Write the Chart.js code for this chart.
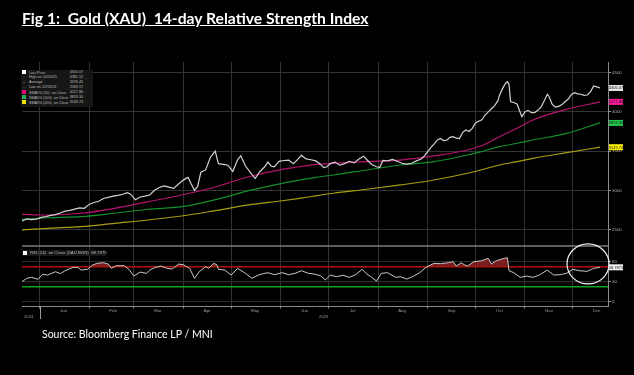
<!DOCTYPE html>
<html>
<head>
<meta charset="utf-8">
<script src="https://cdn.jsdelivr.net/npm/chart.js@4.4.1/dist/chart.umd.min.js"></script>
<style>
  html, body { margin: 0; padding: 0; background: #000; }
  #wrap { position: relative; width: 634px; height: 375px; overflow: hidden; background: #000; }
  #chart { position: absolute; left: 0; top: 0; }
  #title { position: absolute; left: 22px; top: 9px; font: bold 15.7px Lato, sans-serif; color: #fff; text-decoration: underline; white-space: pre; }
  #source { position: absolute; left: 42px; top: 328px; font: 10.5px Lato, sans-serif; color: #fff; }
  .box { position: absolute; background: #161616; color: #bdbdbd; font: 3.7px 'Liberation Sans', sans-serif; }
  .row { position: relative; height: 5px; line-height: 5px; white-space: pre; }
  .ic { display: inline-block; width: 4px; height: 4px; margin: 0 3px 0 1px; vertical-align: -0.5px; }
  .val { position: absolute; right: 10px; top: 0; }
</style>
</head>
<body>
<div id="wrap">
  <canvas id="chart" width="634" height="375"></canvas>
  <div id="title">Fig 1:  Gold (XAU)  14-day Relative Strength Index</div>
  <div id="legend" class="box" style="left:21px; top:70px; width:72px; height:37px;"></div>
  <div id="rsiLegend" class="box" style="left:22px; top:250px; width:84px; height:6px; font-size:4.3px;"></div>
  <div id="source">Source: Bloomberg Finance LP / MNI</div>
</div>
<script>
// eixo x em dias desde 1 jan 2025
const monthStarts = [0, 31, 59, 90, 120, 151, 181, 212, 243, 273, 304, 334];
const monthLabels = ['Jan', 'Feb', 'Mar', 'Apr', 'May', 'Jun', 'Jul', 'Aug', 'Sep', 'Oct', 'Nov', 'Dec'];
const priceTicks = [2500, 3000, 3500, 4000, 4500];
const rsiTicks = [0, 20, 40, 60, 80, 100];

const priceDays = [-11, -8, -5, -2, 1, 4, 7, 10, 13, 16,
  19, 22, 25, 28, 31, 34, 37, 40, 43, 46,
  49, 52, 55, 57, 60, 63, 66, 69, 72, 75,
  78, 81, 84, 87, 90, 93, 95, 97, 99, 101,
  104, 107, 110, 112, 115, 118, 121, 124, 126, 129,
  132, 135, 138, 141, 143, 145, 147, 150, 153, 156,
  159, 162, 164, 167, 170, 173, 176, 178, 180, 182,
  185, 188, 191, 194, 197, 200, 203, 205, 208, 211,
  213, 215, 218, 221, 224, 227, 230, 233, 236, 239,
  241, 243, 245, 247, 249, 251, 253, 255, 257, 259,
  261, 263, 265, 267, 269, 271, 273, 275, 277, 279,
  281, 283, 285, 287, 288, 290, 292, 293, 294, 295,
  297, 299, 300, 302, 304, 306, 308, 310, 312, 314,
  316, 318, 319, 321, 323, 325, 327, 329, 331, 333,
  335, 337, 339, 341, 343, 345, 347, 349, 351];
const price = [2610, 2635, 2625, 2632, 2655, 2665, 2680, 2690, 2710, 2735,
  2745, 2760, 2775, 2770, 2820, 2845, 2860, 2895, 2910, 2925,
  2935, 2950, 2970, 2950, 2880, 2915, 2925, 2940, 3000, 3035,
  3055, 3040, 3025, 3080, 3130, 3165, 3080, 3000, 3050, 3230,
  3260, 3420, 3500, 3340, 3330, 3320, 3240, 3390, 3440, 3310,
  3230, 3150, 3240, 3300, 3360, 3310, 3300, 3370, 3380, 3385,
  3340, 3400, 3445, 3400, 3390, 3375, 3330, 3290, 3300, 3340,
  3360, 3320, 3340, 3370, 3350, 3400, 3435, 3390, 3330, 3300,
  3290, 3380, 3375, 3395, 3370, 3345, 3335, 3345, 3375, 3400,
  3440, 3490, 3545, 3590, 3640, 3660, 3635, 3640, 3675, 3685,
  3665, 3660, 3740, 3770, 3750, 3790, 3860, 3880, 3900, 3960,
  4000, 4040, 4080, 4140, 4210, 4300, 4370, 4385, 4350, 4130,
  4120, 4100, 4050, 3940, 4000, 4020, 3990, 3990, 4020, 4060,
  4140, 4225, 4200, 4100, 4060, 4070, 4090, 4130, 4160, 4220,
  4245, 4230, 4225, 4210, 4215, 4255, 4330, 4320, 4305.07];

const smaDays = [-11, 5, 26, 47, 68, 89, 110, 131, 152, 163, 173, 184, 205, 226, 247, 268, 278, 288, 299, 309, 330, 351];
const sma50 = [2694, 2685, 2707, 2770, 2855, 2940, 3042, 3173, 3268, 3300, 3330, 3344, 3365, 3386, 3438, 3514, 3578, 3684, 3791, 3897, 4033, 4127.86];
const sma100 = [2630, 2650, 2663, 2707, 2758, 2791, 2880, 2995, 3089, 3131, 3166, 3195, 3259, 3323, 3365, 3450, 3501, 3556, 3600, 3642, 3727, 3859.30];
const sma200 = [2494, 2515, 2536, 2579, 2621, 2672, 2740, 2813, 2867, 2898, 2930, 2962, 3013, 3068, 3131, 3217, 3268, 3323, 3365, 3408, 3480, 3549.74];

const rsiDays = [-11, -8, -5, -1, 2, 5, 10, 13, 16, 21,
  24, 26, 30, 33, 36, 40, 43, 45, 48, 53,
  56, 59, 63, 67, 69, 72, 76, 80, 83, 87,
  90, 94, 97, 100, 104, 106, 109, 111, 112, 116,
  120, 124, 129, 133, 137, 140, 143, 147, 152, 156,
  160, 164, 168, 172, 176, 179, 182, 186, 190, 194,
  198, 202, 205, 208, 211, 214, 218, 223, 226, 230,
  234, 238, 242, 247, 251, 256, 259, 261, 264, 266,
  268, 272, 277, 281, 283, 286, 291, 293, 294, 297,
  301, 305, 309, 313, 318, 322, 326, 330, 334, 338,
  343, 347, 351];
const rsi = [40, 46.7, 48.7, 44.7, 55, 53, 60, 56, 62, 68.7,
  68.7, 63.3, 64.7, 73, 76.7, 78, 75.3, 66.7, 72, 72,
  64.7, 51.3, 59.3, 56.7, 63.3, 68, 71.3, 66.7, 65.3, 75.3,
  74, 66.7, 46.7, 60, 70, 66.7, 76.7, 74, 64.7, 63.3,
  53.3, 66.7, 56.7, 46.7, 53.3, 56, 58, 54, 58, 54,
  56.7, 62, 57, 55.3, 52, 43.3, 53.3, 50, 53, 48.7,
  54, 64.7, 55.3, 48.7, 41.3, 56.7, 58, 48.7, 50, 45.3,
  50.7, 58, 68.7, 76.7, 76, 78, 80, 71.3, 78, 74,
  71.3, 80, 82, 86.7, 75.3, 82, 86.7, 88, 62, 58,
  48.7, 51.3, 48.7, 53.3, 63.3, 53.3, 54, 56.7, 64.7, 62,
  60.7, 66.7, 68.7875];
const rsiOverbought = 70;
const rsiOversold = 30;

const legendLabels = ['Last Price', 'High on 10/20/25', 'Average', 'Low on 12/19/24', 'SMAVG (50)  on Close', 'SMAVG (100)  on Close', 'SMAVG (200)  on Close'];
const legendValues = ['4305.07', '4381.52', '3376.45', '2583.57', '4127.86', '3859.30', '3549.74'];
const legendIcons = ['#ffffff', '\u2191', '\u2192', '\u2193', '#e5007d', '#19b14a', '#f2e200'];

const pts = (days, vals) => days.map((d, i) => ({ x: d, y: vals[i] }));

// legenda (texto real em HTML)
const legend = document.getElementById('legend');
legendLabels.forEach((lab, i) => {
  const row = document.createElement('div');
  row.className = 'row';
  const ic = legendIcons[i];
  const icon = ic.startsWith('#')
    ? '<span class="ic" style="background:' + ic + '"></span>'
    : '<span style="display:inline-block;width:4px;margin:0 3px 0 1px;text-align:center">' + ic + '</span>';
  row.innerHTML = icon + lab + '<span class="val">' + legendValues[i] + '</span>';
  legend.appendChild(row);
});
document.getElementById('rsiLegend').innerHTML =
  '<div class="row" style="height:6px;line-height:6px"><span class="ic" style="background:#fff"></span>RSI (14)  on Close (XAU BGN)  ' + rsi[rsi.length - 1] + '</div>';

// etiquetas no eixo direito, separador, elipse e anos
const overlay = {
  id: 'overlay',
  afterDraw(chart) {
    const { ctx, chartArea, scales } = chart;
    const x = scales.x, yp = scales.y, yr = scales.rsi;
    ctx.save();
    ctx.strokeStyle = '#7c7c7c';
    ctx.lineWidth = 1.5;
    ctx.beginPath();
    ctx.moveTo(chartArea.left, yp.bottom);
    ctx.lineTo(chartArea.right, yp.bottom);
    ctx.stroke();

    const tags = [
      { v: price[price.length - 1], s: yp, bg: '#e6e6e6', d: 2 },
      { v: sma50[sma50.length - 1], s: yp, bg: '#ff1a9c', d: 2 },
      { v: sma100[sma100.length - 1], s: yp, bg: '#22c94f', d: 2 },
      { v: sma200[sma200.length - 1], s: yp, bg: '#fff200', d: 2 },
      { v: rsi[rsi.length - 1], s: yr, bg: '#f2f2f2', d: 4 }
    ];
    ctx.font = '4px "Liberation Sans"';
    ctx.textAlign = 'center';
    ctx.textBaseline = 'middle';
    tags.forEach(t => {
      const py = t.s.getPixelForValue(t.v);
      ctx.fillStyle = t.bg;
      ctx.fillRect(chartArea.right + 1, py - 3, 14, 6);
      ctx.fillStyle = '#111';
      ctx.fillText(t.v.toFixed(t.d), chartArea.right + 8, py + 0.3);
    });

    ctx.strokeStyle = '#f4f4f4';
    ctx.lineWidth = 1.2;
    ctx.beginPath();
    ctx.ellipse(x.getPixelForValue(343.5), yr.getPixelForValue(75.5), 21, 20, 0, 0, Math.PI * 2);
    ctx.stroke();

    ctx.fillStyle = '#9a9a9a';
    ctx.font = '4.2px "Liberation Sans"';
    ctx.textAlign = 'left';
    ctx.fillText('2024', chartArea.left + 2, 317);
    ctx.textAlign = 'center';
    ctx.fillText('2025', x.getPixelForValue(178), 317);
    ctx.strokeStyle = '#9a9a9a';
    ctx.lineWidth = 1;
    const jx = Math.round(x.getPixelForValue(0)) + 0.5;
    ctx.beginPath();
    ctx.moveTo(jx, chartArea.bottom);
    ctx.lineTo(jx, 319);
    ctx.stroke();
    ctx.restore();
  }
};

const axisFont = { family: 'Liberation Sans', size: 4.4 };
const ctx = document.getElementById('chart').getContext('2d');
const chart = new Chart(ctx, {
  type: 'line',
  data: {
    datasets: [
      { data: pts(priceDays, price), yAxisID: 'y', borderColor: '#d2d2d2', borderWidth: 1.2, pointRadius: 0 },
      { data: pts(smaDays, sma50), yAxisID: 'y', borderColor: '#b5146f', borderWidth: 1.2, cubicInterpolationMode: 'monotone', pointRadius: 0 },
      { data: pts(smaDays, sma100), yAxisID: 'y', borderColor: '#138f2c', borderWidth: 1.2, cubicInterpolationMode: 'monotone', pointRadius: 0 },
      { data: pts(smaDays, sma200), yAxisID: 'y', borderColor: '#aa9d14', borderWidth: 1.2, cubicInterpolationMode: 'monotone', pointRadius: 0 },
      {
        data: pts(rsiDays, rsi), yAxisID: 'rsi', borderColor: '#c8c8c8', borderWidth: 1, pointRadius: 0,
        fill: { target: { value: rsiOverbought }, above: 'rgba(150, 35, 35, 0.8)', below: 'rgba(0,0,0,0)' }
      },
      { data: pts([-11, 356], [rsiOverbought, rsiOverbought]), yAxisID: 'rsi', borderColor: '#b00f0f', borderWidth: 1.6, pointRadius: 0 },
      { data: pts([-11, 356], [rsiOversold, rsiOversold]), yAxisID: 'rsi', borderColor: '#14a314', borderWidth: 1.6, pointRadius: 0 }
    ]
  },
  options: {
    responsive: false,
    animation: false,
    devicePixelRatio: 1,
    layout: { padding: { left: 22, top: 62, right: 0, bottom: 0 } },
    plugins: { legend: { display: false }, tooltip: { enabled: false } },
    scales: {
      x: {
        type: 'linear', min: -11, max: 356,
        afterBuildTicks: s => { s.ticks = monthStarts.map(v => ({ value: v })); },
        afterFit: s => { s.height = 68.5; },
        grid: { color: '#333', tickColor: '#888', tickLength: 2 },
        border: { color: '#8a8a8a', width: 1 },
        ticks: {
          autoSkip: false, maxRotation: 0, padding: 0, labelOffset: 24,
          color: '#9a9a9a', font: axisFont,
          callback: (v, i) => monthLabels[i]
        }
      },
      y: {
        type: 'linear', position: 'right', stack: 'panes', stackWeight: 184,
        min: 2289.5, max: 4636.5,
        afterBuildTicks: s => { s.ticks = priceTicks.map(v => ({ value: v })); },
        afterFit: s => { s.width = 26; },
        grid: { color: '#333', tickColor: '#999', tickLength: 3 },
        border: { color: '#8a8a8a', width: 1 },
        ticks: { padding: 1, color: '#a8a8a8', font: axisFont, callback: v => String(v) }
      },
      rsi: {
        type: 'linear', position: 'right', stack: 'panes', stackWeight: 60.5,
        min: -9.6, max: 111.4,
        afterBuildTicks: s => { s.ticks = rsiTicks.map(v => ({ value: v })); },
        afterFit: s => { s.width = 26; },
        grid: { color: '#2c2c2c', tickColor: '#999', tickLength: 3 },
        border: { color: '#8a8a8a', width: 1 },
        ticks: { padding: 1, color: '#a8a8a8', font: axisFont, callback: v => String(v) }
      }
    }
  },
  plugins: [overlay]
});
</script>
</body>
</html>
